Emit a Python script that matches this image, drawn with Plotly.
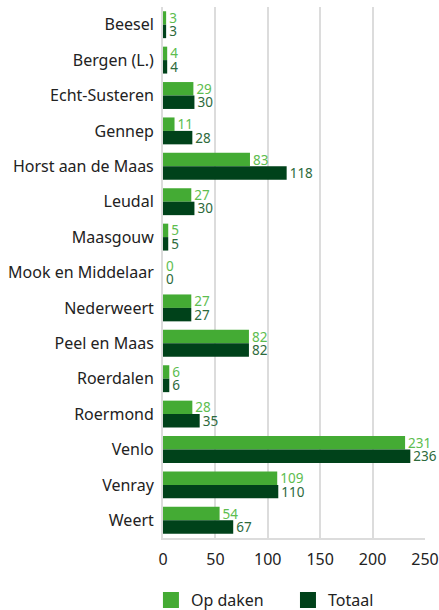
import plotly.graph_objects as go

categories = ["Beesel", "Bergen (L.)", "Echt-Susteren", "Gennep", "Horst aan de Maas",
              "Leudal", "Maasgouw", "Mook en Middelaar", "Nederweert", "Peel en Maas",
              "Roerdalen", "Roermond", "Venlo", "Venray", "Weert"]
op_daken = [3, 4, 29, 11, 83, 27, 5, 0, 27, 82, 6, 28, 231, 109, 54]
totaal = [3, 4, 30, 28, 118, 30, 5, 0, 27, 82, 6, 35, 236, 110, 67]
x_ticks = [0, 50, 100, 150, 200, 250]

font = "Noto Sans, Open Sans, sans-serif"
light = "#44ab34"
dark = "#00421a"

fig = go.Figure()
fig.add_trace(go.Bar(y=categories, x=op_daken, orientation="h", name="Op daken",
                     marker=dict(color=light, line=dict(width=0)),
                     text=op_daken, textposition="outside", cliponaxis=False,
                     constraintext="none", textangle=0, showlegend=False,
                     textfont=dict(color="#5dbd4f", size=13.5, family=font)))
fig.add_trace(go.Bar(y=categories, x=totaal, orientation="h", name="Totaal",
                     marker=dict(color=dark, line=dict(width=0)),
                     text=totaal, textposition="outside", cliponaxis=False,
                     constraintext="none", textangle=0, showlegend=False,
                     textfont=dict(color="#2d6a3c", size=13.5, family=font)))
# legend entries with larger square swatches, one legend each
for name, col, leg in [("Op daken", light, "legend"), ("Totaal", dark, "legend2")]:
    fig.add_trace(go.Scatter(x=[None], y=[None], mode="markers", name=name,
                             marker=dict(symbol="square", size=16, color=col),
                             showlegend=True, hoverinfo="skip", legend=leg))

leg_common = dict(orientation="h", xanchor="left", y=-0.117, yanchor="middle",
                  font=dict(size=16, color="#222"), itemwidth=30,
                  bgcolor="rgba(0,0,0,0)")
fig.update_layout(
    width=439, height=610,
    margin=dict(l=163, r=14, t=7, b=72, autoexpand=False),
    paper_bgcolor="white", plot_bgcolor="white",
    barmode="group", bargap=0.24, bargroupgap=0,
    font=dict(family=font, size=15, color="#222"),
    showlegend=True,
    legend=dict(x=-0.046, **leg_common),
    legend2=dict(x=0.477, **leg_common),
    xaxis=dict(range=[0, 250], tickvals=x_ticks, showgrid=True, gridcolor="#dcdcdc",
               gridwidth=2, zeroline=False, showline=True, linecolor="#dcdcdc", linewidth=2,
               tickfont=dict(size=16), ticks="", ticklabelstandoff=6,
               ticklabeloverflow="allow", automargin=False),
    yaxis=dict(autorange="reversed", showgrid=False, showline=True, linecolor="#dcdcdc",
               linewidth=2, ticks="", tickfont=dict(size=16), ticklabelstandoff=4,
               automargin=False),
)
fig.write_html("out.html", config={"displayModeBar": False},
               post_script="document.body.style.margin='0';document.body.style.overflow='hidden';")
